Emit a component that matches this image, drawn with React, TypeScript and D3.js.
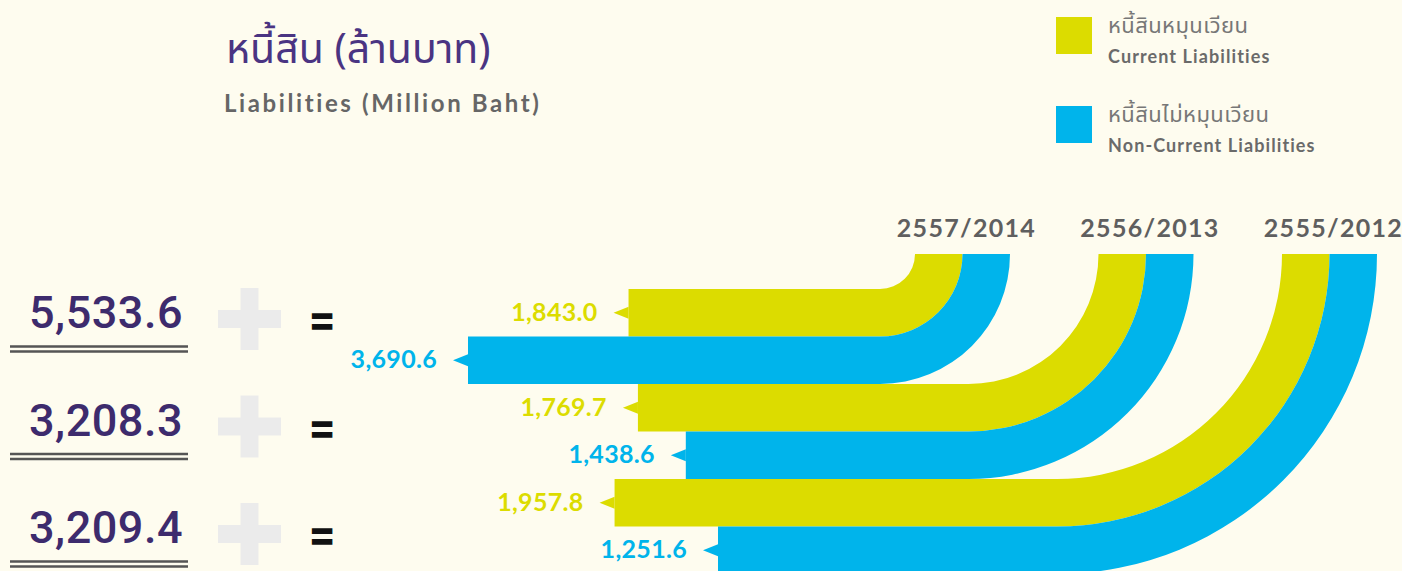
import React from "react";
import * as d3 from "d3";

// ---------- data ----------
const years = ["2557/2014", "2556/2013", "2555/2012"];
const currentLiabilities = [1843.0, 1769.7, 1957.8];
const nonCurrentLiabilities = [3690.6, 1438.6, 1251.6];
const seriesKeys = ["current", "nonCurrent"];
const seriesLabelsTh = ["หนี้สินหมุนเวียน", "หนี้สินไม่หมุนเวียน"];
const seriesLabelsEn = ["Current Liabilities", "Non-Current Liabilities"];
const titleTh = "หนี้สิน (ล้านบาท)";
const titleEn = "Liabilities (Million Baht)";

// ---------- style ----------
const W = 1402;
const H = 571;
const BG = "#fefcef";
const COLORS: Record<string, string> = { current: "#dcdc00", nonCurrent: "#00b4eb" };
const PURPLE = "#3d2b6d";
const GRAY = "#666666";
const THAI_FONT = "'Noto Sans Thai', 'Noto Sans Thai Looped', Loma, Garuda, 'Tlwg Typist', 'Noto Sans', sans-serif";
const LATIN_FONT = "Lato, 'Open Sans', sans-serif";

export default function App() {
  const fmt = d3.format(",.1f");

  const rows = years.flatMap((year, i) => [
    { year, i, key: seriesKeys[0], value: currentLiabilities[i] },
    { year, i, key: seriesKeys[1], value: nonCurrentLiabilities[i] },
  ]);

  const arcTop = 254;
  const yRow = d3.scaleBand<number>().domain(d3.range(rows.length)).range([289, 574]).padding(0);
  const step = yRow.bandwidth();
  const xYear = d3.scalePoint<string>().domain(years).range([915, 1282]);
  const xVal = d3.scaleLog().domain([1251.6, 3690.6]).range([718, 468]);
  const leftRow = d3.scalePoint<string>().domain(years).range([322, 537]);

  const bands = rows.map((r, idx) => {
    const groupInner = (yRow(r.i * 2) as number) - arcTop;
    const cx = (xYear(r.year) as number) - groupInner;
    const ri = (yRow(idx) as number) - arcTop;
    const ro = ri + step;
    const left = xVal(r.value);
    const p = d3.path();
    p.moveTo(left, arcTop + ri);
    p.lineTo(cx, arcTop + ri);
    p.arc(cx, arcTop, ri, Math.PI / 2, 0, true);
    p.lineTo(cx + ro, arcTop);
    p.arc(cx, arcTop, ro, 0, Math.PI / 2, false);
    p.lineTo(left, arcTop + ro);
    p.closePath();
    const mid = arcTop + ri + step / 2;
    return { ...r, d: p.toString(), left, mid };
  });

  const totals = years.map((_, i) => currentLiabilities[i] + nonCurrentLiabilities[i]);

  return (
    <svg width={W} height={H} style={{ display: "block", position: "absolute", left: 0, top: 0 }}>
      <rect x={0} y={0} width={W} height={H} fill={BG} />

      {/* title */}
      <text x={226} y={63} fontFamily={THAI_FONT} fontSize={41} fill="#4a3482">
        {titleTh}
      </text>
      <text x={224} y={112} fontFamily={LATIN_FONT} fontWeight={700} fontSize={24} letterSpacing={2.6} fill={GRAY}>
        {titleEn}
      </text>

      {/* legend */}
      {seriesKeys.map((k, i) => (
        <g key={k} transform={`translate(1056, ${17 + i * 89})`}>
          <rect x={0} y={0} width={36} height={37} fill={COLORS[k]} />
          <text x={52} y={16} fontFamily={THAI_FONT} fontSize={22} letterSpacing={0.4} fill="#777">
            {seriesLabelsTh[i]}
          </text>
          <text x={52} y={46} fontFamily={LATIN_FONT} fontWeight={700} fontSize={18} letterSpacing={1.1} fill="#6a6a6a">
            {seriesLabelsEn[i]}
          </text>
        </g>
      ))}

      {/* year labels */}
      {years.map((y) => (
        <text
          key={y}
          x={(xYear(y) as number) + step + 4}
          y={237}
          textAnchor="middle"
          fontFamily={LATIN_FONT}
          fontWeight={700}
          fontSize={25}
          letterSpacing={1.3}
          fill="#5f5f5f"
        >
          {y}
        </text>
      ))}

      {/* bands */}
      {bands.map((b) => (
        <path key={`${b.year}-${b.key}`} d={b.d} fill={COLORS[b.key]} />
      ))}

      {/* value labels with pointers */}
      {bands.map((b) => (
        <g key={`lab-${b.year}-${b.key}`}>
          <path
            d={`M${b.left},${b.mid - 6} L${b.left - 15},${b.mid} L${b.left},${b.mid + 6} Z`}
            fill={COLORS[b.key]}
          />
          <text
            x={b.left - 31}
            y={b.mid + 8}
            textAnchor="end"
            fontFamily={LATIN_FONT}
            fontWeight={700}
            fontSize={25}
            letterSpacing={0.3}
            fill={COLORS[b.key]}
          >
            {fmt(b.value)}
          </text>
        </g>
      ))}

      {/* left totals */}
      {years.map((y, i) => {
        const cy = leftRow(y) as number;
        return (
          <g key={`tot-${y}`}>
            <text x={183} y={cy + 6} textAnchor="end" fontFamily="Roboto, sans-serif" fontWeight={500} fontSize={45} letterSpacing={0.5} fill={PURPLE}>
              {fmt(totals[i])}
            </text>
            <line x1={10} x2={188} y1={cy + 24.5} y2={cy + 24.5} stroke="#555" strokeWidth={2.5} />
            <line x1={10} x2={188} y1={cy + 29.5} y2={cy + 29.5} stroke="#555" strokeWidth={2.5} />
            <rect x={218} y={cy - 3 - 9} width={63} height={18} fill="#ebebeb" />
            <rect x={240.5} y={cy - 3 - 31} width={18} height={62} fill="#ebebeb" />
            <text
              x={322}
              y={cy + 13}
              textAnchor="middle"
              fontFamily="'Liberation Sans', Arial, sans-serif"
              fontWeight={700}
              fontSize={38}
              fill="#111"
              stroke="#111"
              strokeWidth={1.4}
            >
              =
            </text>
          </g>
        );
      })}
    </svg>
  );
}
